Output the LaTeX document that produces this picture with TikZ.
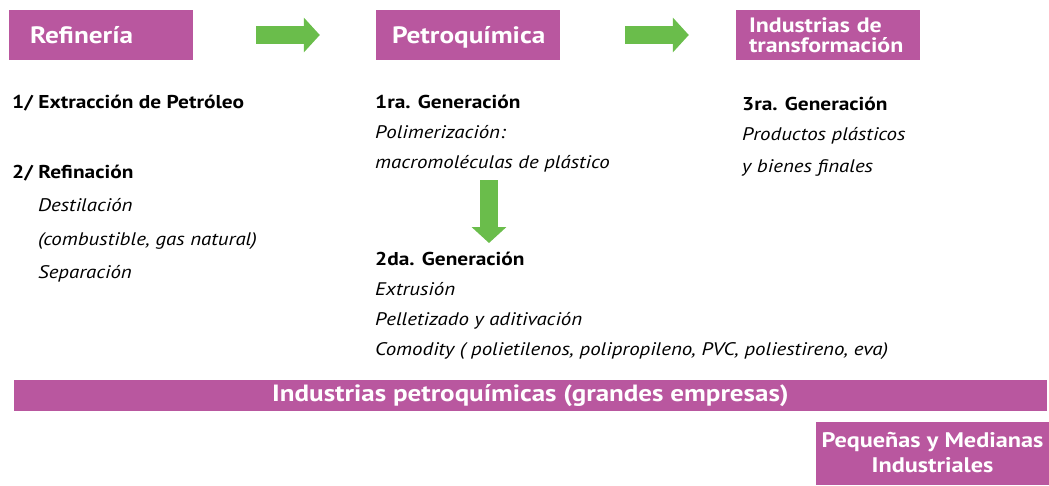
\documentclass[tikz,border=0pt]{standalone}
\usepackage{fontspec}
\setmainfont{PT Sans}[FakeStretch=1.15]
\usetikzlibrary{arrows.meta,positioning}
\definecolor{petroPink}{HTML}{B9579F}
\definecolor{petroGreen}{HTML}{6ABD4B}

\begin{document}
\begin{tikzpicture}[x=1pt,y=-1pt,
  titlebox/.style={fill=petroPink,text=white,font=\fontsize{23.7}{23.7}\selectfont\bfseries,minimum height=50pt,align=left,inner ysep=0pt,text height=16pt,text depth=0pt},
  body/.style={anchor=base west,inner sep=0pt,font=\fontsize{18.2}{22}\selectfont},
  head/.style={body,font=\fontsize{18.6}{22}\selectfont\bfseries},
  item/.style={body,font=\fontsize{18.2}{22}\selectfont\itshape},
  flow/.style={petroGreen,line width=18pt,-{Triangle[length=16pt,width=34pt]}}]
\useasboundingbox (0,0) rectangle (1049,485);
% cabeceras
\node[titlebox,inner xsep=21pt,text width=142pt] (ref) at (101,35) {Refinería};
\node[titlebox,inner xsep=16pt,text width=152pt] (petro) at (468,35) {Petroquímica};
\node[titlebox,inner xsep=13pt,text width=158pt,font=\fontsize{20.8}{20}\selectfont\bfseries,text height=15pt,text depth=20pt] (trans) at (828,35) {Industrias de\\transformación};
\draw[flow,shorten <=63pt,shorten >=56pt] (ref) -- (petro);
\draw[flow,shorten <=65pt,shorten >=47pt] (petro) -- (trans);
% refineria
\node[head] (extr) at (12,108) {1/ Extracción de Petróleo};
\node[head] (refin) at (12,178) {2/ Refinación};
\node[item] (dest) at (38,211) {Destilación};
\node[item] (comb) at (38,245) {(combustible, gas natural)};
\node[item] (sep) at (38,278) {Separación};
% petroquimica
\node[head] (gen1) at (375,108) {1ra. Generación};
\node[item] (polim) at (375,138) {Polimerización:};
\node[item] (macro) at (375,168) {macromoléculas de plástico};
\coordinate (gen1foot) at (489,180);
\coordinate (gen2top) at (489,243);
\draw[flow] (gen1foot) -- (gen2top);
\node[head] (gen2) at (375,265) {2da. Generación};
\node[item] (extru) at (375,295) {Extrusión};
\node[item] (pellet) at (375,325) {Pelletizado y aditivación};
\node[item] (comod) at (375,355) {Comodity ( polietilenos, polipropileno, PVC, poliestireno, eva)};
% transformacion
\node[head] (gen3) at (742,110) {3ra. Generación};
\node[item] (prod) at (742,140) {Productos plásticos};
\node[item] (bienes) at (742,172) {y bienes finales};
% barras inferiores
\node[fill=petroPink,text=white,font=\fontsize{23.5}{23.5}\selectfont\bfseries,minimum width=1033pt,minimum height=31pt,inner sep=0pt] (bar) at (530.5,395.5) {Industrias petroquímicas (grandes empresas)};
\node[fill=petroPink,text=white,font=\fontsize{21.1}{25}\selectfont\bfseries,align=center,minimum width=233pt,minimum height=63pt,inner sep=0pt] (pyme) at (932.5,453) {Pequeñas y Medianas\\Industriales};
\end{tikzpicture}
\end{document}
